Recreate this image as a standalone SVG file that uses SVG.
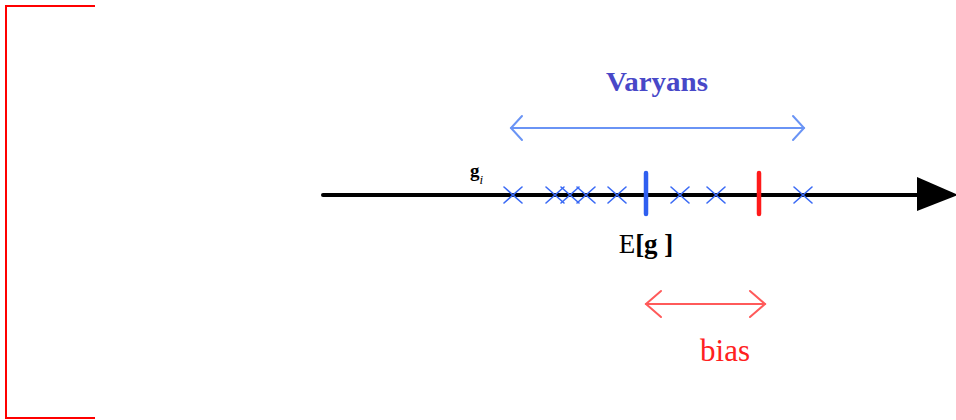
<svg xmlns="http://www.w3.org/2000/svg" width="956" height="420" viewBox="0 0 956 420">
<style>
.x{stroke:#3a6af5;stroke-width:1.6;fill:none;stroke-linecap:round}
.serif{font-family:"Liberation Serif","DejaVu Serif",serif}
</style>
<rect width="956" height="420" fill="#ffffff"/>
<g id="bracket">
<polyline points="95,6 6,6 6,418 95,418" fill="none" stroke="#ff0000" stroke-width="2"/>
</g>
<g id="connectors">
<g id="axis">
<line x1="323" y1="195" x2="920" y2="195" stroke="#000" stroke-width="4" stroke-linecap="round"/>
<polygon points="917,177 958,195 917,211" fill="#000"/>
</g>
<g id="varyans-arrow" stroke="#6a94f5" stroke-width="2" fill="none" stroke-linecap="round">
<line x1="511" y1="128" x2="804" y2="128"/>
<polyline points="522,116 511,128 522,140"/>
<polyline points="793,116 804,128 793,140"/>
</g>
<g id="bias-arrow" stroke="#ff5a5a" stroke-width="2" fill="none" stroke-linecap="round">
<line x1="646" y1="304" x2="765" y2="304"/>
<polyline points="661,291 646,304 661,317"/>
<polyline points="750,291 765,304 750,317"/>
</g>
</g>
<g id="samples">
<path class="x" d="M504,187 L522,203 M522,187 L504,203"/>
<path class="x" d="M546,187 L564,203 M564,187 L546,203"/>
<path class="x" d="M561,187 L579,203 M579,187 L561,203"/>
<path class="x" d="M577,187 L595,203 M595,187 L577,203"/>
<path class="x" d="M608,187 L626,203 M626,187 L608,203"/>
<path class="x" d="M671,187 L689,203 M689,187 L671,203"/>
<path class="x" d="M707,187 L725,203 M725,187 L707,203"/>
<path class="x" d="M794,187 L812,203 M812,187 L794,203"/>
</g>
<g id="expected-bar">
<line x1="646" y1="173" x2="646" y2="214" stroke="#2f5ff0" stroke-width="4.5" stroke-linecap="round"/>
</g>
<g id="true-bar">
<line x1="759" y1="173" x2="759" y2="214" stroke="#ff1a1a" stroke-width="4.5" stroke-linecap="round"/>
</g>
<g id="labels">
<text x="470" y="177" class="serif" font-size="19" font-weight="bold" fill="#000">g<tspan font-size="13" font-style="italic" font-weight="normal" dy="7">i</tspan></text>
<text x="657" y="91" class="serif" font-size="27" font-weight="bold" fill="#4848c8" text-anchor="middle" textLength="102" lengthAdjust="spacingAndGlyphs">Varyans</text>
<text x="646" y="253" class="serif" font-size="27" fill="#000" text-anchor="middle">E<tspan font-weight="bold">[g ]</tspan></text>
<text x="725" y="361" class="serif" font-size="31" fill="#ff2020" text-anchor="middle">bias</text>
</g>
</svg>
